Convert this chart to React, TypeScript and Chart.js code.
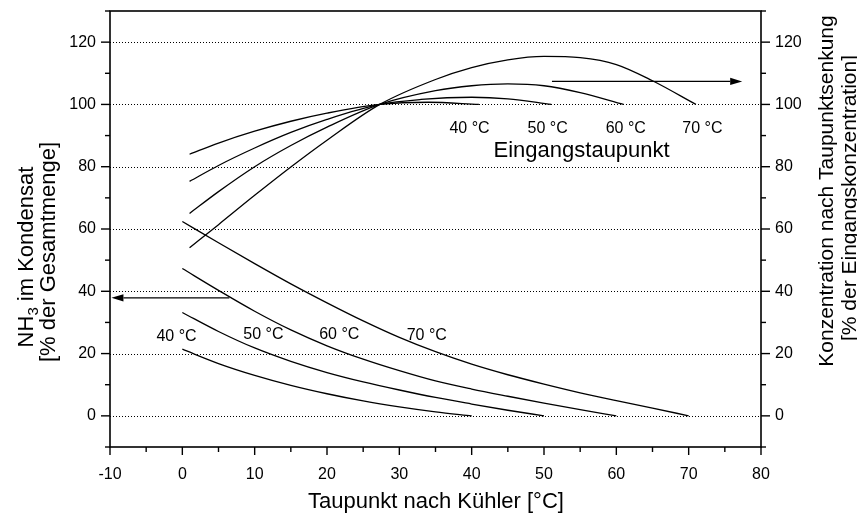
import React, { useEffect, useRef } from 'react';
import { Chart, registerables } from 'chart.js';

Chart.register(...registerables);

const FONT = "'Liberation Sans', Arial, Helvetica, sans-serif";

// ---- axes ----
const xMin = -10;
const xMax = 80;
const yMin = -10;
const yMax = 130;
const gridValues = [0, 20, 40, 60, 80, 100, 120];

// ---- lower curves: NH3 im Kondensat (left axis) ----
const cond40X = [0, 5, 10, 15, 20, 25, 30, 35, 40];
const cond40Y = [21.4, 16.8, 13.0, 9.8, 7.1, 4.8, 2.9, 1.3, 0];
const cond50X = [0, 5, 10, 15, 20, 25, 30, 35, 40, 45, 50];
const cond50Y = [33.2, 27.1, 21.8, 17.5, 13.9, 10.9, 8.3, 5.9, 3.8, 1.8, 0];
const cond60X = [0, 5, 10, 15, 20, 25, 30, 35, 40, 45, 50, 55, 60];
const cond60Y = [47.3, 40.3, 33.6, 27.6, 22.5, 18.2, 14.5, 11.2, 8.6, 6.3, 4.1, 2.0, 0];
const cond70X = [0, 5, 10, 15, 20, 25, 30, 35, 40, 45, 50, 55, 60, 65, 70];
const cond70Y = [62.4, 55.6, 48.9, 42.4, 36.3, 30.5, 25.2, 20.6, 16.6, 13.2, 10.2, 7.4, 4.9, 2.5, 0];

// ---- upper curves: Konzentration nach Taupunktsenkung (right axis) ----
const conc40X = [1, 5, 10, 15, 20, 27.3, 34, 41];
const conc40Y = [84, 87.6, 91.4, 94.6, 97.2, 100, 100.7, 100];
const conc50X = [1, 5, 10, 15, 20, 27.3, 33, 40, 45, 51];
const conc50Y = [75.3, 80.4, 86.0, 91.0, 95.2, 100, 101.6, 102.3, 101.8, 100];
const conc60X = [1, 5, 10, 15, 20, 27.3, 35, 40, 45, 50, 55, 61];
const conc60Y = [65, 72.0, 80.0, 86.8, 92.7, 100, 104.4, 106.0, 106.6, 106.0, 103.8, 100];
const conc70X = [1, 5, 10, 15, 20, 27.3, 35, 40, 45, 50, 55, 60, 65, 71];
const conc70Y = [54, 61.4, 70.8, 79.9, 88.5, 100, 108, 111.8, 114.3, 115.4, 115, 112.8, 107.6, 100];

// ---- labels ----
const tempLabels = ['40 °C', '50 °C', '60 °C', '70 °C'];
const lowerLabelX = [-0.8, 11.2, 21.7, 33.8];
const lowerLabelY = [25.6, 26.2, 26.0, 25.8];
const upperLabelX = [39.7, 50.5, 61.3, 71.9];
const upperLabelY = [92.2, 92.2, 92.2, 92.2];
const inletTitle = 'Eingangstaupunkt';
const inletTitleX = 55.2;
const inletTitleY = 85.2;

// ---- arrows [x from, x to], y ----
const rightArrowX = [51.1, 77.4];
const rightArrowY = 107.4;
const leftArrowX = [6.5, -9.8];
const leftArrowY = 37.9;

const xTitle = 'Taupunkt nach Kühler [°C]';
const leftTitleA = ['NH', '3', ' im Kondensat'];
const leftTitleB = '[% der Gesamtmenge]';
const rightTitleA = 'Konzentration nach Taupunktsenkung';
const rightTitleB = '[% der Eingangskonzentration]';

const toPts = (xs: number[], ys: number[]) => xs.map((x, i) => ({ x, y: ys[i] }));

function arrow(ctx: CanvasRenderingContext2D, x1: number, y1: number, x2: number, y2: number) {
  const ang = Math.atan2(y2 - y1, x2 - x1);
  const len = 12;
  const hw = 3.6;
  const bx = x2 - len * Math.cos(ang);
  const by = y2 - len * Math.sin(ang);
  ctx.beginPath();
  ctx.moveTo(x1, y1);
  ctx.lineTo(bx, by);
  ctx.stroke();
  ctx.beginPath();
  ctx.moveTo(x2, y2);
  ctx.lineTo(bx - hw * Math.sin(ang), by + hw * Math.cos(ang));
  ctx.lineTo(bx + hw * Math.sin(ang), by - hw * Math.cos(ang));
  ctx.closePath();
  ctx.fill();
}

const framePlugin = {
  id: 'frameAndNotes',
  beforeDatasetsDraw(chart: any) {
    const { ctx, chartArea: a, scales } = chart;
    const y = scales.y;
    ctx.save();
    ctx.strokeStyle = '#000';
    ctx.lineWidth = 1;
    ctx.setLineDash([1, 2]);
    for (const v of gridValues) {
      const py = Math.round(y.getPixelForValue(v)) + 0.5;
      ctx.beginPath();
      ctx.moveTo(a.left, py);
      ctx.lineTo(a.right, py);
      ctx.stroke();
    }
    ctx.restore();
  },
  afterDatasetsDraw(chart: any) {
    const { ctx, chartArea: a, scales } = chart;
    const x = scales.x;
    const y = scales.y;
    const y2 = scales.y2;
    ctx.save();
    ctx.strokeStyle = '#000';
    ctx.fillStyle = '#000';
    ctx.setLineDash([]);
    // frame
    ctx.lineWidth = 1.6;
    ctx.strokeRect(a.left, a.top, a.right - a.left, a.bottom - a.top);
    // ticks
    ctx.lineWidth = 1.4;
    for (let v = yMin; v <= yMax; v += 10) {
      const major = v % 20 === 0;
      const py = y.getPixelForValue(v);
      const L = major ? 9 : 5;
      ctx.beginPath();
      ctx.moveTo(a.left - L, py);
      ctx.lineTo(a.left, py);
      ctx.stroke();
      const py2 = y2.getPixelForValue(v);
      ctx.beginPath();
      ctx.moveTo(a.right, py2);
      ctx.lineTo(a.right + L, py2);
      ctx.stroke();
    }
    for (let v = xMin; v <= xMax; v += 5) {
      const major = v % 10 === 0;
      const px = x.getPixelForValue(v);
      const L = major ? 8 : 5;
      ctx.beginPath();
      ctx.moveTo(px, a.bottom);
      ctx.lineTo(px, a.bottom + L);
      ctx.stroke();
    }
    // arrows
    ctx.lineWidth = 1.3;
    arrow(ctx, x.getPixelForValue(rightArrowX[0]), y2.getPixelForValue(rightArrowY),
      x.getPixelForValue(rightArrowX[1]), y2.getPixelForValue(rightArrowY));
    arrow(ctx, x.getPixelForValue(leftArrowX[0]), y.getPixelForValue(leftArrowY),
      x.getPixelForValue(leftArrowX[1]), y.getPixelForValue(leftArrowY));
    // temperature labels
    ctx.font = `16px ${FONT}`;
    ctx.textAlign = 'center';
    ctx.textBaseline = 'middle';
    tempLabels.forEach((t, i) => {
      ctx.fillText(t, x.getPixelForValue(lowerLabelX[i]), y.getPixelForValue(lowerLabelY[i]));
      ctx.fillText(t, x.getPixelForValue(upperLabelX[i]), y2.getPixelForValue(upperLabelY[i]));
    });
    ctx.font = `22px ${FONT}`;
    ctx.fillText(inletTitle, x.getPixelForValue(inletTitleX), y2.getPixelForValue(inletTitleY));

    // axis titles
    ctx.font = `22px ${FONT}`;
    ctx.fillText(xTitle, 436, 502);

    // left title (rotated)
    ctx.save();
    ctx.translate(27, 257);
    ctx.rotate(-Math.PI / 2);
    ctx.textAlign = 'left';
    ctx.font = `22px ${FONT}`;
    const wA = ctx.measureText(leftTitleA[0]).width;
    ctx.font = `15px ${FONT}`;
    const wB = ctx.measureText(leftTitleA[1]).width;
    ctx.font = `22px ${FONT}`;
    const wC = ctx.measureText(leftTitleA[2]).width;
    let sx = -(wA + wB + wC) / 2;
    ctx.fillText(leftTitleA[0], sx, 0);
    sx += wA;
    ctx.font = `15px ${FONT}`;
    ctx.fillText(leftTitleA[1], sx, 7);
    sx += wB;
    ctx.font = `22px ${FONT}`;
    ctx.fillText(leftTitleA[2], sx, 0);
    ctx.restore();

    ctx.save();
    ctx.translate(49, 252);
    ctx.rotate(-Math.PI / 2);
    ctx.font = `22px ${FONT}`;
    ctx.fillText(leftTitleB, 0, 0);
    ctx.restore();

    // right title (rotated)
    ctx.save();
    ctx.translate(827, 191);
    ctx.rotate(-Math.PI / 2);
    ctx.font = `21px ${FONT}`;
    ctx.fillText(rightTitleA, 0, 0);
    ctx.restore();
    ctx.save();
    ctx.translate(850, 198);
    ctx.rotate(-Math.PI / 2);
    ctx.font = `21px ${FONT}`;
    ctx.fillText(rightTitleB, 0, 0);
    ctx.restore();

    ctx.restore();
  },
};

export default function App() {
  const ref = useRef<HTMLCanvasElement | null>(null);
  useEffect(() => {
    if (!ref.current) return;
    const mk = (xs: number[], ys: number[], axis: string) => ({
      data: toPts(xs, ys),
      yAxisID: axis,
      borderColor: '#000',
      borderWidth: 1.3,
      pointRadius: 0,
      fill: false,
      cubicInterpolationMode: 'monotone' as const,
    });
    const tickFont = { family: FONT, size: 16 };
    const yTickCb = (v: any) => (Number(v) % 20 === 0 && v >= 0 && v <= 120 ? String(v) : '');
    const noPadY = (w: number) => (s: any) => {
      s.width = w;
      s.paddingTop = 0;
      s.paddingBottom = 0;
    };
    const chart = new Chart(ref.current, {
      type: 'line',
      data: {
        datasets: [
          mk(cond40X, cond40Y, 'y'),
          mk(cond50X, cond50Y, 'y'),
          mk(cond60X, cond60Y, 'y'),
          mk(cond70X, cond70Y, 'y'),
          mk(conc40X, conc40Y, 'y2'),
          mk(conc50X, conc50Y, 'y2'),
          mk(conc60X, conc60Y, 'y2'),
          mk(conc70X, conc70Y, 'y2'),
        ],
      },
      options: {
        animation: false,
        responsive: false,
        maintainAspectRatio: false,
        layout: { padding: { top: 11, left: 0, right: 0, bottom: 0 } },
        plugins: { legend: { display: false }, tooltip: { enabled: false } },
        scales: {
          x: {
            type: 'linear',
            position: 'bottom',
            min: xMin,
            max: xMax,
            afterFit: (s: any) => { s.height = 72; s.paddingLeft = 0; s.paddingRight = 0; },
            ticks: { stepSize: 10, autoSkip: false, maxRotation: 0, padding: 18, color: '#000', font: tickFont },
            grid: { display: false, drawTicks: false },
            border: { display: false },
          },
          y: {
            type: 'linear',
            position: 'left',
            min: yMin,
            max: yMax,
            afterFit: noPadY(110),
            ticks: { stepSize: 10, autoSkip: false, padding: 14, color: '#000', font: tickFont, callback: yTickCb },
            grid: { display: false, drawTicks: false },
            border: { display: false },
          },
          y2: {
            type: 'linear',
            position: 'right',
            min: yMin,
            max: yMax,
            afterFit: noPadY(96),
            ticks: { stepSize: 10, autoSkip: false, padding: 14, color: '#000', font: tickFont, callback: yTickCb },
            grid: { display: false, drawTicks: false },
            border: { display: false },
          },
        },
      } as any,
      plugins: [framePlugin],
    });
    return () => chart.destroy();
  }, []);
  return (
    <div style={{ position: 'absolute', left: 0, top: 0, width: 857, height: 519, background: '#fff' }}>
      <canvas ref={ref} width={857} height={519} style={{ display: 'block', width: 857, height: 519 }} />
    </div>
  );
}
